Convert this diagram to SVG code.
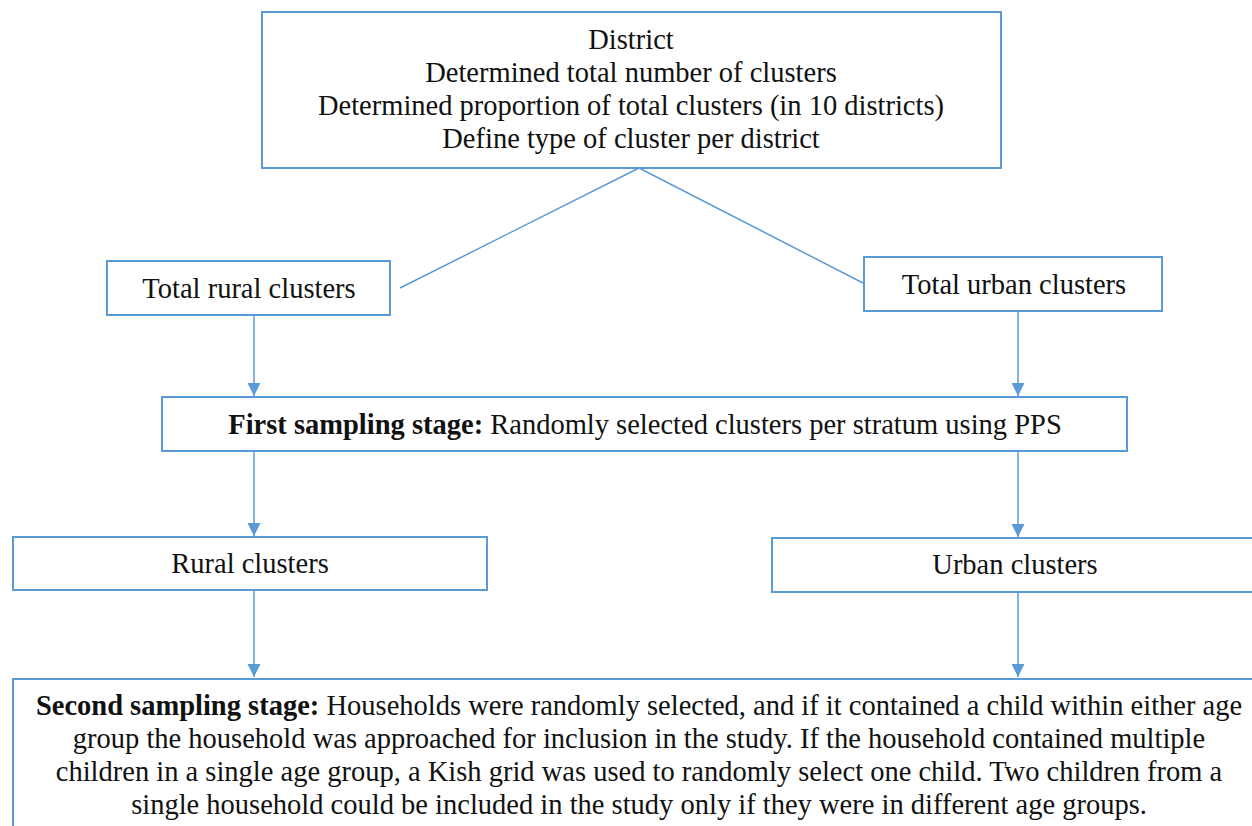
<svg xmlns="http://www.w3.org/2000/svg" width="1252" height="826" viewBox="0 0 1252 826">
<defs>
<style>
.box{fill:#fff;stroke:#5B9BD5;stroke-width:2}
.con{stroke:#5B9BD5;stroke-width:1.5;fill:none}
.t{font-family:"Liberation Serif",serif;font-size:28.5px;fill:#111;text-anchor:middle}
.b{font-weight:bold}
</style>
<marker id="arr" viewBox="0 0 10 10" refX="10" refY="5" markerWidth="13" markerHeight="13" markerUnits="userSpaceOnUse" orient="auto">
<path d="M0,0 L10,5 L0,10 Z" fill="#5B9BD5"/>
</marker>
</defs>
<rect width="1252" height="826" fill="#fff"/>
<g id="connectors">
<line class="con" x1="639" y1="168" x2="400" y2="288"/>
<line class="con" x1="639" y1="168" x2="863" y2="283"/>
<line class="con" x1="254" y1="315" x2="254" y2="396" marker-end="url(#arr)"/>
<line class="con" x1="1018" y1="311" x2="1018" y2="396" marker-end="url(#arr)"/>
<line class="con" x1="254" y1="451" x2="254" y2="536" marker-end="url(#arr)"/>
<line class="con" x1="1018" y1="451" x2="1018" y2="537" marker-end="url(#arr)"/>
<line class="con" x1="254" y1="590" x2="254" y2="677" marker-end="url(#arr)"/>
<line class="con" x1="1018" y1="592" x2="1018" y2="677" marker-end="url(#arr)"/>
</g>
<g id="district">
<rect class="box" x="262" y="12" width="739" height="156"/>
<text class="t" x="631" y="49">District</text>
<text class="t" x="631" y="82">Determined total number of clusters</text>
<text class="t" x="631" y="115">Determined proportion of total clusters (in 10 districts)</text>
<text class="t" x="631" y="148">Define type of cluster per district</text>
</g>
<g id="total-rural">
<rect class="box" x="107" y="261" width="283" height="54"/>
<text class="t" x="249" y="298">Total rural clusters</text>
</g>
<g id="total-urban">
<rect class="box" x="864" y="257" width="298" height="54"/>
<text class="t" x="1014" y="294">Total urban clusters</text>
</g>
<g id="first-stage">
<rect class="box" x="162" y="397" width="965" height="54"/>
<text class="t" x="645" y="434"><tspan class="b">First sampling stage:</tspan> Randomly selected clusters per stratum using PPS</text>
</g>
<g id="rural">
<rect class="box" x="13" y="537" width="474" height="53"/>
<text class="t" x="250" y="573">Rural clusters</text>
</g>
<g id="urban">
<rect class="box" x="772" y="538" width="490" height="54"/>
<text class="t" x="1015" y="574">Urban clusters</text>
</g>
<g id="second-stage">
<rect class="box" x="13" y="679" width="1250" height="160"/>
<text class="t" x="639" y="715"><tspan class="b">Second sampling stage:</tspan> Households were randomly selected, and if it contained a child within either age</text>
<text class="t" x="639" y="748">group the household was approached for inclusion in the study. If the household contained multiple</text>
<text class="t" x="639" y="781">children in a single age group, a Kish grid was used to randomly select one child. Two children from a</text>
<text class="t" x="639" y="814">single household could be included in the study only if they were in different age groups.</text>
</g>
</svg>
